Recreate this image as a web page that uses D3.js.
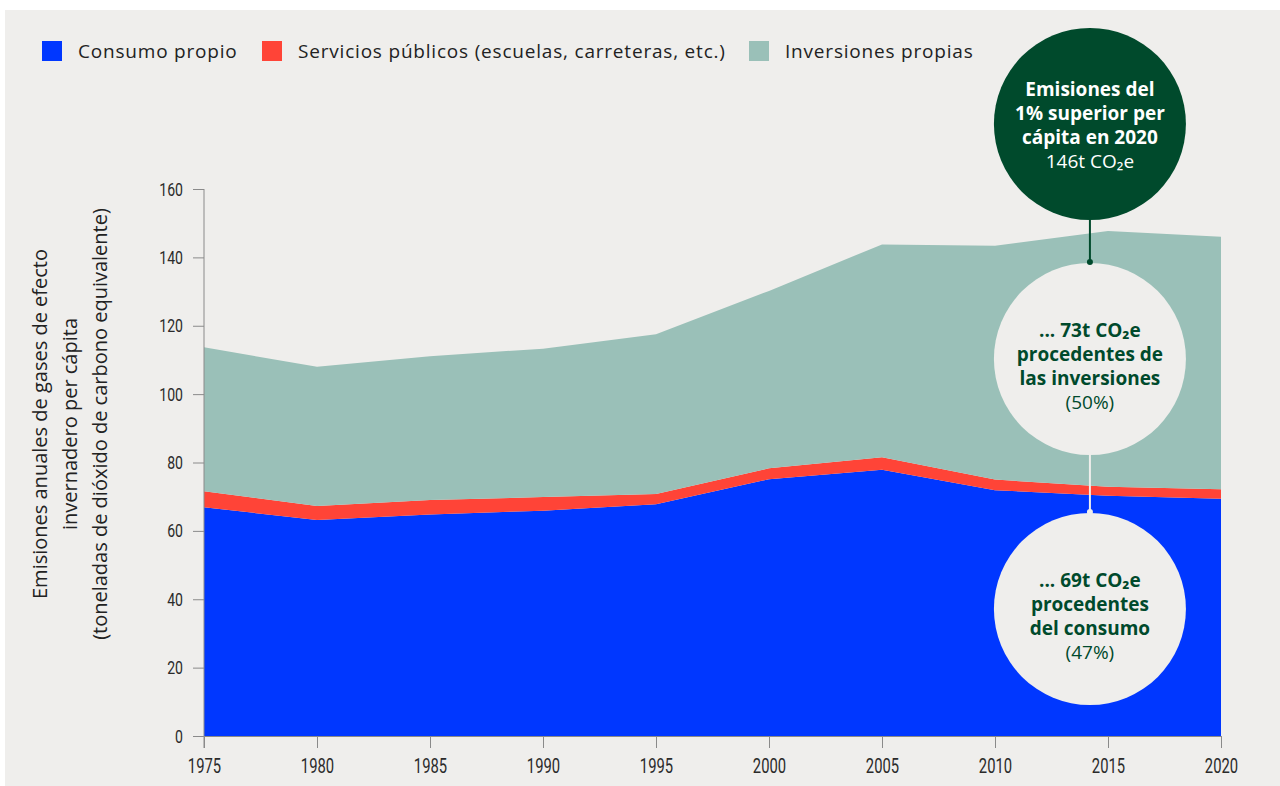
<!DOCTYPE html>
<html>
<head>
<meta charset="utf-8">
<script src="https://cdn.jsdelivr.net/npm/d3@7"></script>
<style>
  html, body { margin: 0; padding: 0; background: #ffffff; }
  svg { display: block; }
</style>
</head>
<body>
<svg id="chart" width="1280" height="786"></svg>
<script>
// ---- data ----
const years = [1975, 1980, 1985, 1990, 1995, 2000, 2005, 2010, 2015, 2020];
const consumoPropio = [66.9, 63.2, 64.8, 65.9, 67.8, 75.1, 77.9, 71.9, 70.3, 69.4];
const serviciosPublicos = [4.7, 4.1, 4.2, 4.0, 3.0, 3.2, 3.6, 3.1, 2.6, 2.8];
const inversionesPropias = [42.1, 40.7, 42.1, 43.4, 46.7, 51.9, 62.3, 68.4, 74.8, 73.8];
const seriesNames = ["Consumo propio", "Servicios públicos (escuelas, carreteras, etc.)", "Inversiones propias"];
const yTicks = [0, 20, 40, 60, 80, 100, 120, 140, 160];
const xTicks = years;
const yTitle = ["Emisiones anuales de gases de efecto", "invernadero per cápita", "(toneladas de dióxido de carbono equivalente)"];
const topCircle = { year: 2014.2, bold: ["Emisiones del", "1% superior per", "cápita en 2020"], value: "146t CO₂e" };
const invCircle = { bold: ["... 73t CO₂e", "procedentes de", "las inversiones"], pct: "(50%)" };
const conCircle = { bold: ["... 69t CO₂e", "procedentes", "del consumo"], pct: "(47%)" };

const colors = ["#0037ff", "#ff4437", "#9ac0b8"];
const bg = "#efeeec";
const dark = "#004a2c";
const font = "'Open Sans', 'Noto Sans', Lato, sans-serif";
const tickFont = "Roboto, 'Open Sans', sans-serif";
const squeeze = 0.74;

const svg = d3.select("#chart");
svg.append("rect").attr("x", 5).attr("y", 10).attr("width", 1275).attr("height", 776).attr("fill", bg);

const x = d3.scaleLinear().domain([1975, 2020]).range([204, 1221]);
const y = d3.scaleLinear().domain([0, 160]).range([736, 189]);

const table = years.map((yr, i) => ({ year: yr, c: consumoPropio[i], s: serviciosPublicos[i], v: inversionesPropias[i] }));
const stack = d3.stack().keys(["c", "s", "v"])(table);
const area = d3.area().x(d => x(d.data.year)).y0(d => y(d[0])).y1(d => y(d[1]));

svg.append("g").selectAll("path").data(stack).join("path")
  .attr("d", area).attr("fill", (d, i) => colors[i]);

// axes
const yAxis = svg.append("g").attr("transform", "translate(204,0)")
  .call(d3.axisLeft(y).tickValues(yTicks).tickSize(11).tickPadding(10).tickFormat(d3.format("d")));
yAxis.select(".domain").remove();
yAxis.selectAll("line").attr("stroke", "#8a8a8a");
yAxis.selectAll("text").attr("font-family", tickFont).attr("font-size", 19).attr("fill", "#2a2a2a")
  .attr("x", -21 / squeeze).attr("transform", `scale(${squeeze},1)`);
svg.append("line").attr("x1", 204).attr("x2", 204).attr("y1", 189).attr("y2", 748).attr("stroke", "#8a8a8a");

const xAxis = svg.append("g").attr("transform", "translate(0,736)")
  .call(d3.axisBottom(x).tickValues(xTicks).tickSize(12).tickPadding(13).tickFormat(d3.format("d")));
xAxis.select(".domain").attr("stroke", "#8a8a8a").attr("d", "M204,0.5H1221");
xAxis.selectAll("line").attr("stroke", "#8a8a8a");
xAxis.selectAll("text").attr("font-family", tickFont).attr("font-size", 20).attr("fill", "#2a2a2a")
  .attr("y", 23).attr("transform", `scale(${squeeze},1)`);

// y title
const yt = svg.append("text").attr("transform", "translate(40,424) rotate(-90)")
  .attr("text-anchor", "middle").attr("font-family", font).attr("font-size", 20).attr("fill", "#222");
yTitle.forEach((t, i) => yt.append("tspan").attr("x", 0).attr("y", i * 30 + 7).text(t));

// legend
const legX = [42, 262, 749];
seriesNames.forEach((n, i) => {
  const g = svg.append("g").attr("transform", `translate(${legX[i]},41)`);
  g.append("rect").attr("width", 20).attr("height", 20).attr("fill", colors[i]);
  g.append("text").attr("x", 36).attr("y", 17).attr("font-family", font).attr("font-size", 19)
    .attr("letter-spacing", 0.8).attr("fill", "#222").text(n);
});

// annotations
const cx = x(topCircle.year);
const r = 96;
const c0y = 124, c1y = 359, c2y = 609;
svg.append("line").attr("x1", cx).attr("x2", cx).attr("y1", c0y + r).attr("y2", c1y - r - 1).attr("stroke", dark).attr("stroke-width", 2);
svg.append("line").attr("x1", cx).attr("x2", cx).attr("y1", c1y + r).attr("y2", c2y - r - 1).attr("stroke", bg).attr("stroke-width", 2);
svg.append("circle").attr("cx", cx).attr("cy", c0y).attr("r", r).attr("fill", dark);
svg.append("circle").attr("cx", cx).attr("cy", c1y).attr("r", r).attr("fill", bg);
svg.append("circle").attr("cx", cx).attr("cy", c2y).attr("r", r).attr("fill", bg);
svg.append("circle").attr("cx", cx).attr("cy", c1y - r - 1).attr("r", 3).attr("fill", dark);
svg.append("circle").attr("cx", cx).attr("cy", c2y - r - 1).attr("r", 3).attr("fill", bg);

function circleText(c, baseY, color) {
  const a = svg.append("text").attr("text-anchor", "middle").attr("font-family", font).attr("font-size", 19).attr("fill", color);
  c.bold.forEach((l, i) => a.append("tspan").attr("x", cx).attr("y", baseY + 24 * i).attr("font-weight", 700).text(l));
  a.append("tspan").attr("x", cx).attr("y", baseY + 24 * 3).attr("font-weight", 400).text(c.pct);
}
circleText({ bold: topCircle.bold, pct: topCircle.value }, 96, "#ffffff");
circleText(invCircle, 337, dark);
circleText(conCircle, 587, dark);
</script>
</body>
</html>
